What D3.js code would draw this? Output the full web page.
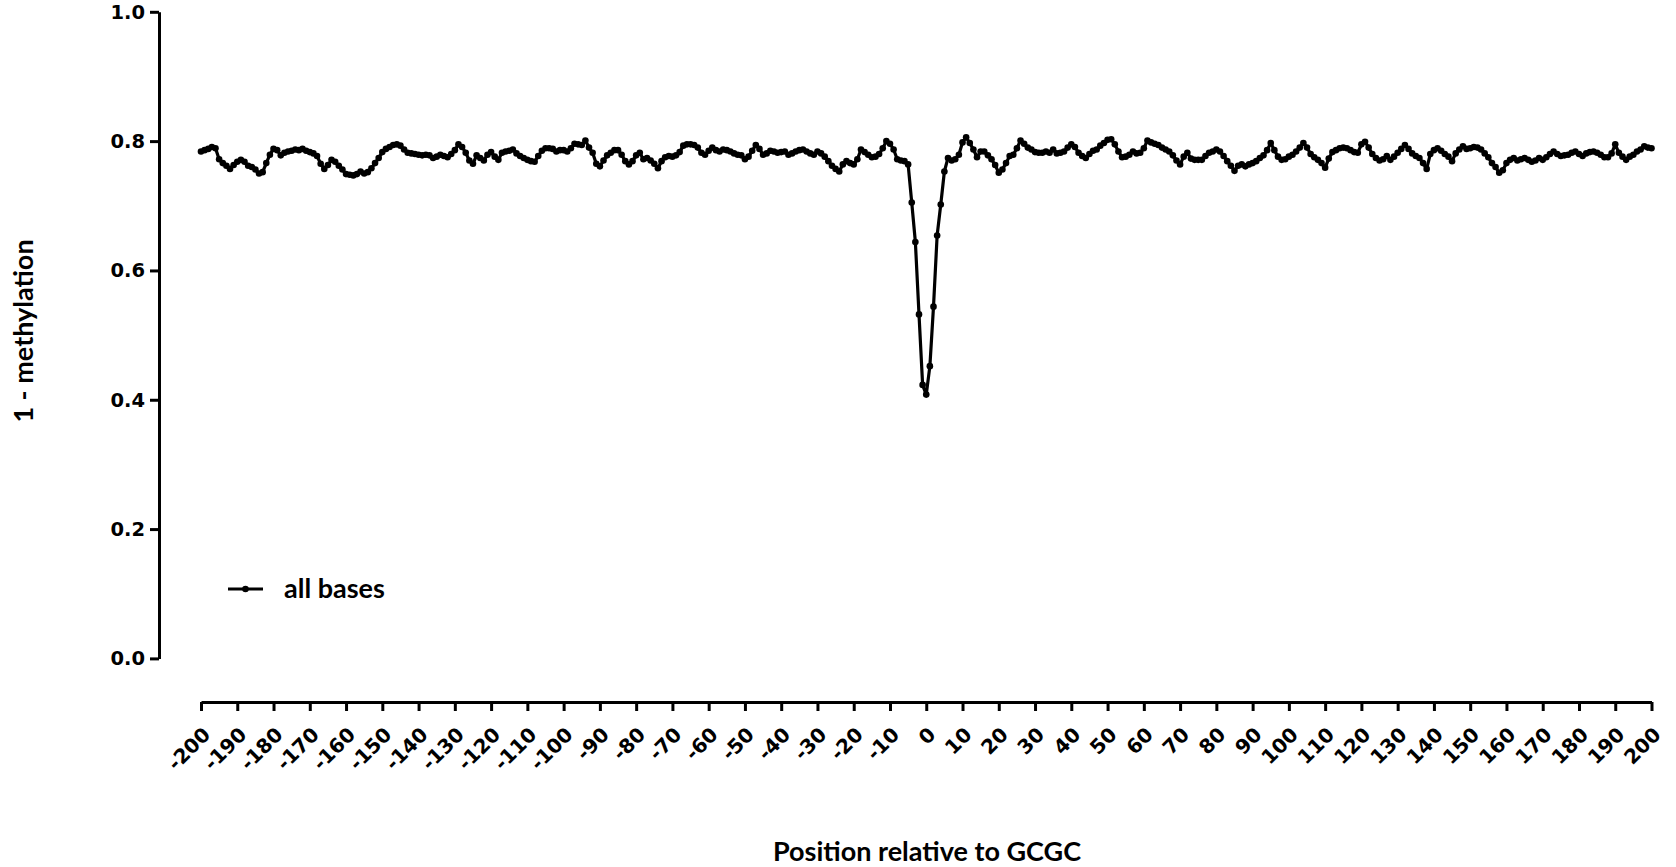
<!DOCTYPE html>
<html>
<head>
<meta charset="utf-8">
<script src="https://cdn.jsdelivr.net/npm/d3@7"></script>
<style>
  html, body { margin: 0; padding: 0; background: #fff; }
  svg { display: block; }
</style>
</head>
<body>
<svg id="chart" width="1676" height="867"></svg>
<script>
// ---- data ----
const positions = d3.range(-200, 201);
const methylation = [
  // -200 .. -151
  0.784,0.786,0.788,0.791,0.789,0.772,0.766,0.762,0.757,0.763,
  0.768,0.771,0.768,0.762,0.760,0.756,0.750,0.752,0.766,0.779,
  0.788,0.786,0.778,0.782,0.784,0.785,0.787,0.786,0.788,0.785,
  0.783,0.781,0.777,0.765,0.757,0.763,0.771,0.768,0.762,0.756,
  0.749,0.748,0.747,0.749,0.753,0.750,0.752,0.758,0.766,0.774,
  // -150 .. -101
  0.783,0.788,0.791,0.794,0.795,0.793,0.787,0.782,0.781,0.780,
  0.779,0.778,0.779,0.778,0.774,0.776,0.779,0.777,0.775,0.780,
  0.786,0.795,0.791,0.782,0.770,0.765,0.778,0.774,0.770,0.779,
  0.783,0.776,0.771,0.782,0.784,0.785,0.787,0.781,0.777,0.774,
  0.771,0.769,0.768,0.777,0.785,0.789,0.789,0.788,0.784,0.786,
  // -100 .. -51
  0.786,0.784,0.789,0.796,0.795,0.794,0.801,0.790,0.782,0.765,
  0.761,0.770,0.778,0.782,0.786,0.786,0.779,0.769,0.764,0.769,
  0.778,0.782,0.772,0.774,0.770,0.765,0.758,0.769,0.775,0.777,
  0.776,0.778,0.783,0.793,0.795,0.795,0.794,0.790,0.782,0.779,
  0.785,0.790,0.786,0.784,0.787,0.786,0.784,0.781,0.779,0.778,
  // -50 .. -1
  0.772,0.776,0.785,0.794,0.788,0.779,0.781,0.785,0.784,0.782,
  0.783,0.784,0.779,0.781,0.784,0.786,0.787,0.784,0.781,0.779,
  0.784,0.781,0.776,0.769,0.762,0.757,0.753,0.764,0.769,0.766,
  0.764,0.772,0.787,0.783,0.779,0.775,0.776,0.780,0.789,0.800,
  0.796,0.787,0.772,0.770,0.769,0.764,0.705,0.644,0.532,0.423,
  // 0
  0.408,
  // 1 .. 50
  0.452,0.544,0.654,0.702,0.753,0.774,0.770,0.772,0.779,0.798,
  0.806,0.797,0.787,0.775,0.784,0.784,0.778,0.772,0.763,0.751,
  0.756,0.766,0.777,0.779,0.789,0.801,0.796,0.790,0.787,0.783,
  0.782,0.782,0.784,0.782,0.787,0.781,0.782,0.784,0.790,0.795,
  0.791,0.782,0.777,0.774,0.780,0.785,0.787,0.793,0.797,0.802,
  // 51 .. 100
  0.803,0.795,0.784,0.775,0.776,0.779,0.784,0.781,0.782,0.789,
  0.801,0.798,0.796,0.794,0.790,0.787,0.784,0.778,0.770,0.764,
  0.776,0.782,0.773,0.771,0.771,0.771,0.777,0.782,0.784,0.787,
  0.784,0.777,0.769,0.762,0.754,0.762,0.764,0.761,0.764,0.766,
  0.769,0.774,0.778,0.786,0.797,0.786,0.776,0.771,0.772,0.776,
  // 101 .. 150
  0.779,0.784,0.790,0.797,0.790,0.780,0.775,0.771,0.766,0.759,
  0.773,0.783,0.786,0.789,0.790,0.789,0.786,0.783,0.782,0.795,
  0.799,0.790,0.780,0.774,0.770,0.772,0.777,0.771,0.776,0.782,
  0.788,0.794,0.788,0.781,0.777,0.774,0.766,0.757,0.780,0.786,
  0.789,0.785,0.780,0.776,0.769,0.781,0.787,0.792,0.788,0.789,
  // 151 .. 200
  0.791,0.790,0.787,0.781,0.775,0.766,0.760,0.751,0.755,0.766,
  0.771,0.774,0.770,0.772,0.774,0.771,0.768,0.770,0.774,0.771,
  0.775,0.780,0.784,0.780,0.777,0.778,0.779,0.782,0.784,0.780,
  0.777,0.781,0.783,0.784,0.782,0.779,0.775,0.775,0.781,0.795,
  0.782,0.776,0.771,0.776,0.779,0.784,0.787,0.792,0.790,0.789
];
const yTicks = [0, 0.2, 0.4, 0.6, 0.8, 1.0];
const yTickLabels = ["0.0", "0.2", "0.4", "0.6", "0.8", "1.0"];
const xTicks = d3.range(-200, 201, 10);
const xTickLabels = xTicks.map(String);
const seriesName = "all bases";
const xTitle = "Position relative to GCGC";
const yTitle = "1 - methylation";

// ---- drawing ----
const svg = d3.select("#chart");
const x = d3.scaleLinear().domain([-200, 200]).range([201, 1651.5]);
const y = d3.scaleLinear().domain([0, 1]).range([658.4, 11.8]);
const tickFont = "'DejaVu Sans', Verdana, sans-serif";
const titleFont = "Lato, 'Open Sans', sans-serif";

// Y axis
const yAxis = svg.append("g")
  .attr("transform", "translate(159,0)")
  .call(d3.axisLeft(y).tickValues(yTicks)
    .tickFormat((d, i) => yTickLabels[i])
    .tickSize(9).tickSizeOuter(0).tickPadding(5));
yAxis.select(".domain").attr("stroke", "#000").attr("stroke-width", 3);
yAxis.selectAll(".tick line").attr("stroke", "#000").attr("stroke-width", 3);
yAxis.selectAll(".tick text")
  .attr("fill", "#000")
  .style("font-family", tickFont).style("font-weight", "bold").style("font-size", "19.5px");

// X axis
const xAxis = svg.append("g")
  .attr("transform", "translate(0,702)")
  .call(d3.axisBottom(x).tickValues(xTicks)
    .tickFormat((d, i) => xTickLabels[i])
    .tickSize(9).tickSizeOuter(0));
xAxis.select(".domain").attr("stroke", "#000").attr("stroke-width", 3);
xAxis.selectAll(".tick line").attr("stroke", "#000").attr("stroke-width", 3);
xAxis.selectAll(".tick text")
  .attr("fill", "#000")
  .attr("text-anchor", "end")
  .attr("x", 0).attr("y", 0).attr("dy", null)
  .attr("transform", "translate(10,34) rotate(-45)")
  .style("font-family", tickFont).style("font-weight", "bold").style("font-size", "20px");

// Series line + dots
const pts = positions.map((p, i) => ({ p, v: methylation[i] }));
svg.append("path")
  .datum(pts)
  .attr("fill", "none")
  .attr("stroke", "#000")
  .attr("stroke-width", 3.2)
  .attr("stroke-linejoin", "round")
  .attr("d", d3.line().x(d => x(d.p)).y(d => y(d.v)));
svg.append("g").selectAll("circle")
  .data(pts).join("circle")
  .attr("cx", d => x(d.p)).attr("cy", d => y(d.v))
  .attr("r", 3.3).attr("fill", "#000");

// Legend
const leg = svg.append("g");
leg.append("line").attr("x1", 228).attr("x2", 263).attr("y1", 589).attr("y2", 589)
  .attr("stroke", "#000").attr("stroke-width", 3.2);
leg.append("circle").attr("cx", 245.5).attr("cy", 589).attr("r", 3.3).attr("fill", "#000");
leg.append("text").attr("x", 284).attr("y", 589).attr("dy", "0.35em")
  .text(seriesName)
  .style("font-family", titleFont).style("font-weight", "bold").style("font-size", "27px");

// Axis titles
svg.append("text")
  .attr("transform", "translate(23.5,331) rotate(-90)")
  .attr("text-anchor", "middle").attr("dy", "0.35em")
  .text(yTitle)
  .style("font-family", titleFont).style("font-weight", "bold").style("font-size", "27px");
svg.append("text")
  .attr("x", 927).attr("y", 852).attr("dy", "0.35em")
  .attr("text-anchor", "middle")
  .text(xTitle)
  .style("font-family", titleFont).style("font-weight", "bold").style("font-size", "27px");
</script>
</body>
</html>
